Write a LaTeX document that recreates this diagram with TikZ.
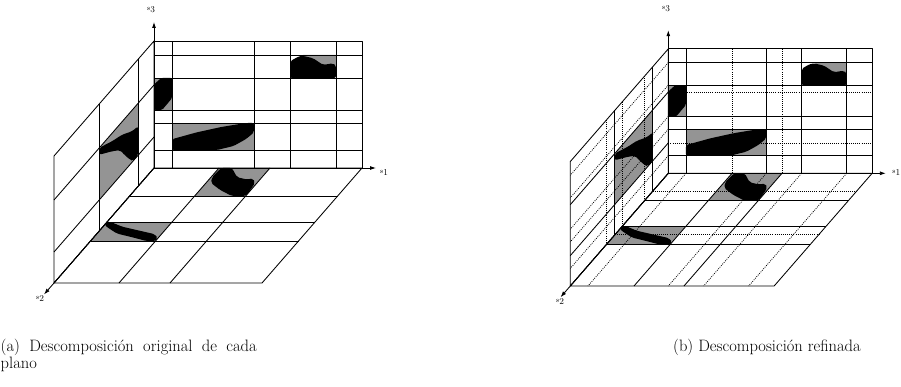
\documentclass[tikz,border=0pt]{standalone}
\usepackage{fontspec}
\usetikzlibrary{arrows.meta}
\newcommand\axlab[1]{\raisebox{2.6pt}{\fontsize{7}{7}\selectfont s}\kern0.2pt{\fontsize{9}{9}\selectfont #1}}
\newcommand\planeshades{%
  % back wall A
  \fill[greyfill] (149,113) -- (182,113) -- (182,100) -- (166,101) -- cycle;
  \fill[darkfill, rounded corners=2pt] (136,90) -- (182,90) -- (182,102.6) -- (179,104.7) -- (169,103.1) -- (159,109.8) -- (147.5,112.5) -- (140.6,109.5) -- (136,106.3) -- cycle;
  % back wall B
  \fill[greyfill] (0,58) rectangle (18,90);
  \fill[darkfill, rounded corners=1.5pt] (0,83.6) -- (7.2,90) -- (18,90) -- (18,69.8) -- (8.1,58) -- (0,58) -- cycle;
  % back wall C
  \fill[greyfill] (18,18) rectangle (100,45);
  \fill[darkfill, rounded corners=2pt] (18,18) -- (63,18) -- (79.5,22) -- (91.8,28.8) -- (100,35.6) -- (100,45) -- (91.8,45) -- (67.2,41) -- (42.6,35.6) -- (18,28.8) -- cycle;
  % floor D
  \fill[greyfill] (65,0,0) -- (116,0,0) -- (116,0,24.3) -- (65,0,24.3) -- cycle;
  \fill[darkfill, rounded corners=2pt] (67,0,0) -- (78,0,0) -- (91,0,8) -- (103,0,10) -- (108,0,9) -- (114,0,13) -- (116,0,22) -- (116,0,24.3) -- (102,0,24.3) -- (85,0,19) -- (70,0,13) -- (66,0,8) -- cycle;
  % floor E
  \fill[greyfill] (0,0,47) -- (65,0,47) -- (65,0,63.5) -- (0,0,63.5) -- cycle;
  \fill[darkfill, rounded corners=2pt] (4,0,47) -- (19,0,51) -- (40,0,54.5) -- (58,0,57.5) -- (65,0,61) -- (65,0,63.5) -- (56,0,63.5) -- (40,0,60.5) -- (20,0,57) -- (6,0,52) -- (0,0,49.5) -- (0,0,47) -- cycle;
  % side wall F
  \fill[greyfill] (0,31,16) -- (0,83,16) -- (0,83,54.5) -- (0,31,54.5) -- cycle;
  \fill[darkfill, rounded corners=2pt] (0,83,54.5) -- (0,75,42) -- (0,70,32) -- (0,62,22) -- (0,60,16) -- (0,31,16) -- (0,31,21) -- (0,36,24) -- (0,46,29) -- (0,57,34) -- (0,65,42) -- (0,76,54.5) -- cycle;
}
\newcommand\planegrid{%
  % back wall
  \draw[gridline] (0,0) rectangle (208,127);
  \foreach \a in {18,100,136,182} \draw[gridline] (\a,0) -- (\a,127);
  \foreach \b in {18,45,58,90,113} \draw[gridline] (0,\b) -- (208,\b);
  % floor
  \draw[gridline] (0,0,0) -- (208,0,0) -- (208,0,100) -- (0,0,100) -- cycle;
  \foreach \a in {65,116} \draw[gridline] (\a,0,0) -- (\a,0,100);
  \foreach \c in {24.3,47,63.5} \draw[gridline] (0,0,\c) -- (208,0,\c);
  % side wall
  \draw[gridline] (0,0,0) -- (0,127,0) -- (0,127,100) -- (0,0,100) -- cycle;
  \foreach \c in {16,54.5} \draw[gridline] (0,0,\c) -- (0,127,\c);
  \foreach \b in {31,83} \draw[gridline] (0,\b,0) -- (0,\b,100);
  % axes
  \draw[axisline] (0,0,0) -- (0,146,0);
  \draw[axisline] (0,0,0) -- (222,0,0);
  \draw[axisline] (0,0,0) -- (0,0,110);
}
\begin{document}
\begin{tikzpicture}[x=1pt,y=-1pt,
  plane3d/.style={x={(1pt,0pt)}, y={(0pt,1pt)}, z={(-1pt,-1.15pt)}},
  gridline/.style={line width=0.85pt, line join=round},
  fineline/.style={line width=0.75pt, dash pattern=on 0.9pt off 1.2pt},
  darkfill/.style={fill=black},
  greyfill/.style={fill=black!42},
  axisline/.style={line width=0.85pt, -{Latex[length=6pt,width=4pt]}},
  axislabel/.style={inner sep=0pt},
  captiontext/.style={inner sep=0pt, font=\fontsize{16.5}{17.5}\selectfont}]
\useasboundingbox (0,0) rectangle (901,387);
% left diagram
\begin{scope}[shift={(154,168)}, plane3d]
  \planeshades
  \planegrid
\end{scope}
% right diagram
\begin{scope}[shift={(668.3,173.3)}, scale=0.98, plane3d]
  \planeshades
  \foreach \a in {65,116} \draw[fineline] (\a,0) -- (\a,127);
  \foreach \b in {31,83} \draw[fineline] (0,\b) -- (208,\b);
  \foreach \a in {18,100,136,182} \draw[fineline] (\a,0,0) -- (\a,0,100);
  \foreach \c in {16,54.5} \draw[fineline] (0,0,\c) -- (208,0,\c);
  \foreach \c in {24.3,47,63.5} \draw[fineline] (0,0,\c) -- (0,127,\c);
  \foreach \b in {18,45,58,90,113} \draw[fineline] (0,\b,0) -- (0,\b,100);
  \planegrid
\end{scope}
% axis labels
\node[axislabel] (ls3) at (151,10) {\axlab{3}};
\node[axislabel] (ls1) at (384,173) {\axlab{1}};
\node[axislabel] (ls2) at (40,299) {\axlab{2}};
\node[axislabel] (rs3) at (666,9) {\axlab{3}};
\node[axislabel, anchor=east] (rs1) at (900.5,173) {\axlab{1}};
\node[axislabel] (rs2) at (560,302) {\axlab{2}};
% captions
\node[captiontext, anchor=base west, text width=256pt, align=justify] (capa) at (0.5,351) {(a) Descomposición original de cada\linebreak plano};
\node[captiontext, anchor=base west] (capb) at (673,351) {(b) Descomposición refinada};
\end{tikzpicture}
\end{document}
